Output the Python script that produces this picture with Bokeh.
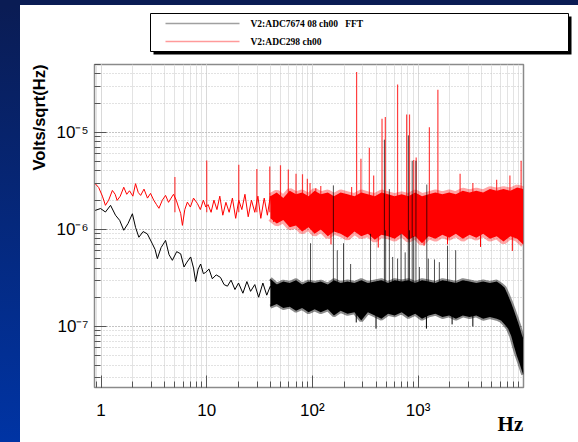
from bokeh.plotting import figure
from bokeh.models import Range1d, CustomJSTickFormatter, Div, Title
from bokeh.layouts import column, row
from bokeh.embed import file_html
from bokeh.resources import INLINE
from bokeh.core.properties import value

# ---------------- data ----------------
series_names = ["V2:ADC7674 08 ch00\u00a0\u00a0\u00a0FFT", "V2:ADC298 ch00"]
y_title = "Volts/sqrt(Hz)"
x_title = "Hz"

# red channel: low-frequency trace (Hz, 1e-6 V/sqrt(Hz))
red_trace_f = [0.88, 0.95, 1.03, 1.10, 1.18, 1.28, 1.36, 1.42, 1.52, 1.64,
               1.75, 1.86, 2.00, 2.12, 2.25, 2.37, 2.55, 2.75, 2.94, 3.15,
               3.35, 3.53, 3.80, 4.08, 4.35, 4.60, 4.85, 5.15, 5.40, 5.67,
               5.89, 6.20, 6.56, 7.00, 7.50, 8.16, 8.70, 9.30, 9.80, 10.3,
               11.0, 11.7, 12.5, 13.3, 14.2, 15.2, 16.3, 17.5, 18.8, 20.1,
               21.5, 23.0, 24.7, 26.5, 28.5, 30.5, 32.5, 35.0, 37.5, 40.0,
               43.0, 46.0, 50.0]
red_trace_uv = [2.96, 2.70, 2.20, 1.77, 2.00, 2.52, 2.30, 1.99, 2.20, 2.72,
                2.30, 2.50, 2.20, 2.96, 2.40, 2.24, 2.60, 2.10, 2.35, 2.00,
                1.80, 1.65, 2.00, 2.24, 1.90, 2.10, 2.30, 2.00, 1.70, 1.46,
                1.10, 1.60, 1.91, 1.70, 2.10, 1.85, 1.60, 2.00, 1.70, 1.80,
                1.50, 2.00, 1.60, 2.20, 1.40, 1.90, 1.50, 2.10, 1.30, 2.00,
                1.60, 2.30, 1.35, 2.00, 1.50, 2.20, 1.30, 2.10, 1.40, 2.20,
                1.20, 2.00, 1.50]

# red channel: dense noise band (upper / lower envelope)
red_band_f = [40, 46, 53, 61, 70, 80, 92, 105, 120, 140,
              160, 185, 215, 250, 290, 335, 390, 450, 520, 600,
              700, 810, 940, 1090, 1260, 1460, 1700, 1970, 2280, 2650,
              3070, 3560, 4130, 4790, 5550, 6440, 7470, 8660, 9900]
red_band_hi_uv = [2.2, 2.4, 2.1, 2.5, 2.3, 2.4, 2.2, 2.5, 2.3, 2.4,
                  2.2, 2.4, 2.3, 2.2, 2.4, 2.3, 2.2, 2.4, 2.3, 2.2,
                  2.3, 2.2, 2.4, 2.2, 2.3, 2.4, 2.3, 2.4, 2.3, 2.5,
                  2.4, 2.5, 2.4, 2.6, 2.5, 2.6, 2.5, 2.7, 2.6]
red_band_lo_uv = [1.30, 1.15, 1.25, 1.05, 1.10, 0.95, 1.05, 0.90, 1.00, 0.85,
                  0.95, 0.90, 0.82, 0.95, 0.85, 0.90, 0.78, 0.88, 0.85, 0.80,
                  0.90, 0.78, 0.85, 0.72, 0.85, 0.80, 0.88, 0.82, 0.90, 0.80,
                  0.88, 0.82, 0.90, 0.80, 0.85, 0.75, 0.85, 0.80, 0.70]

# red channel: line peaks and dips
red_spike_f = [5.0, 10.0, 20.1, 29.8, 39.5, 49.9, 59.2, 70.0, 80.6, 89.6,
               95.0, 107.6, 120, 235, 262, 288, 346, 380, 456, 490,
               640, 780, 830, 910, 960, 1280, 1540, 2500, 3300, 5540,
               7400, 9450]
red_spike_uv = [3.46, 5.14, 4.64, 4.20, 4.46, 4.57, 4.14, 3.75, 3.70, 3.33,
                3.00, 2.66, 2.80, 2.73, 41.9, 5.35, 6.95, 3.60, 13.8, 14.4,
                31.2, 15.3, 15.3, 5.20, 5.50, 11.3, 27.5, 3.75, 3.00, 3.25,
                3.60, 5.10]
red_dip_f = [150, 420, 1140, 1900, 3900, 7800]
red_dip_uv = [0.70, 0.65, 0.68, 0.70, 0.66, 0.60]
red_base_uv = 1.5

# black channel: low-frequency trace (Hz, 1e-7 V/sqrt(Hz))
blk_trace_f = [0.88, 0.99, 1.10, 1.23, 1.37, 1.50, 1.64, 1.80, 1.98, 2.12,
               2.28, 2.50, 2.74, 3.06, 3.25, 3.41, 3.70, 4.08, 4.40, 4.73,
               5.20, 5.67, 6.10, 6.50, 7.05, 7.50, 7.86, 8.30, 8.76, 9.30,
               9.77, 10.5, 11.3, 12.3, 13.5, 14.6, 15.7, 17.0, 18.5, 20.0,
               22.0, 24.0, 26.0, 28.5, 31.0, 34.0, 37.0, 40.0, 43.0, 46.0,
               50.0]
blk_trace_e7 = [15.7, 16.4, 15.1, 17.7, 14.0, 12.4, 9.8, 11.5, 14.5, 10.5,
                8.3, 9.5, 9.0, 7.1, 6.2, 5.0, 6.5, 7.7, 5.5, 4.8,
                5.9, 5.6, 4.1, 4.6, 5.2, 4.0, 2.9, 3.9, 4.4, 3.5,
                3.6, 3.9, 3.1, 3.4, 3.2, 2.7, 2.6, 3.0, 2.4, 2.8,
                2.2, 2.9, 2.3, 2.7, 2.0, 2.8, 2.1, 2.6, 2.2, 2.7,
                1.9]

# black channel: dense noise band (upper / lower envelope)
blk_band_f = [40, 46, 53, 61, 70, 80, 92, 105, 120, 140,
              160, 185, 215, 250, 290, 335, 390, 450, 520, 600,
              700, 810, 940, 1090, 1260, 1460, 1700, 1970, 2280, 2650,
              3070, 3560, 4130, 4790, 5550, 6100, 6600, 7100, 7600, 8100,
              8600, 9100, 9600, 9900]
blk_band_hi_e7 = [3.1, 2.7, 2.9, 2.8, 3.0, 2.7, 2.9, 2.8, 2.9, 2.7,
                  3.0, 2.8, 2.9, 2.8, 3.0, 2.8, 2.9, 3.0, 2.8, 3.0,
                  2.9, 3.0, 2.8, 3.0, 2.9, 2.8, 3.0, 2.9, 2.8, 3.0,
                  2.9, 2.8, 2.9, 2.8, 2.9, 2.7, 2.5, 2.1, 1.75, 1.45,
                  1.2, 1.0, 0.82, 0.75]
blk_band_lo_e7 = [1.60, 1.70, 1.55, 1.60, 1.45, 1.55, 1.40, 1.50, 1.40, 1.50,
                  1.30, 1.45, 1.35, 1.40, 1.15, 1.40, 1.30, 1.20, 1.35, 1.30,
                  1.40, 1.25, 1.35, 1.20, 1.30, 1.35, 1.25, 1.30, 1.20, 1.30,
                  1.25, 1.30, 1.20, 1.25, 1.20, 1.15, 1.05, 0.95, 0.80, 0.62,
                  0.50, 0.42, 0.35, 0.32]

# black channel: line peaks and dips
blk_spike_f = [96, 158, 172, 197, 230, 355, 480, 490, 535, 575,
               640, 690, 755, 810, 830, 880, 910, 955, 1030, 1210,
               1250, 1430, 1590, 1900, 2270]
blk_spike_e7 = [7.2, 28.4, 6.1, 7.2, 4.4, 9.0, 84, 9.8, 26, 5.2,
                5.0, 9.0, 5.8, 93, 9.8, 51, 8.5, 51, 4.1, 29,
                5.0, 4.9, 4.6, 6.8, 6.1]
blk_dip_f = [260, 400, 1200, 2100, 3300]
blk_dip_e7 = [1.10, 0.95, 0.95, 1.05, 1.00]
blk_base_e7 = 2.2

UV = 1e-6
E7 = 1e-7


def scaled(vals, k):
    return [v * k for v in vals]


# ---------------- main plot ----------------
p = figure(width=558, height=386, x_axis_type="log", y_axis_type="log",
           x_range=Range1d(0.867, 9950), y_range=Range1d(2.35e-8, 5.0e-5),
           toolbar_location=None, output_backend="svg",
           min_border_left=74, min_border_right=55, min_border_top=8, min_border_bottom=55,
           background_fill_color="white", border_fill_color="white",
           outline_line_color="#8a8a8a", outline_line_width=1.5)

# red channel
p.line(red_trace_f, scaled(red_trace_uv, UV), line_color="red", line_width=1)
for edge in (red_band_hi_uv, red_band_lo_uv):
    p.line(red_band_f, scaled(edge, UV), line_color="red", line_width=6, line_alpha=0.35)
p.varea(x=red_band_f, y1=scaled(red_band_lo_uv, UV), y2=scaled(red_band_hi_uv, UV),
        fill_color="red")
p.segment(x0=red_spike_f, y0=[red_base_uv * UV] * len(red_spike_f),
          x1=red_spike_f, y1=scaled(red_spike_uv, UV), line_color="red",
          line_alpha=0.75, line_width=1.2)
p.segment(x0=red_dip_f, y0=[red_base_uv * UV] * len(red_dip_f),
          x1=red_dip_f, y1=scaled(red_dip_uv, UV), line_color="red", line_width=1)

# black channel
p.line(blk_trace_f, scaled(blk_trace_e7, E7), line_color="black", line_width=1)
for edge in (blk_band_hi_e7, blk_band_lo_e7):
    p.line(blk_band_f, scaled(edge, E7), line_color="black", line_width=4, line_alpha=0.45)
p.varea(x=blk_band_f, y1=scaled(blk_band_lo_e7, E7), y2=scaled(blk_band_hi_e7, E7),
        fill_color="black")
p.segment(x0=blk_spike_f, y0=[blk_base_e7 * E7] * len(blk_spike_f),
          x1=blk_spike_f, y1=scaled(blk_spike_e7, E7), line_color="black",
          line_alpha=0.7, line_width=1)
p.segment(x0=blk_dip_f, y0=[blk_base_e7 * E7] * len(blk_dip_f),
          x1=blk_dip_f, y1=scaled(blk_dip_e7, E7), line_color="black", line_width=1)

sup_fmt = CustomJSTickFormatter(code="""
const sup = {"-":"\u207b","0":"\u2070","1":"\u00b9","2":"\u00b2","3":"\u00b3",
             "4":"\u2074","5":"\u2075","6":"\u2076","7":"\u2077","8":"\u2078","9":"\u2079"};
const e = Math.round(Math.log10(tick));
if (e === 0) return "1";
if (e === 1) return "10";
let s = "";
for (const c of String(e)) s += sup[c];
return "10" + s;
""")

for ax in (p.xaxis[0], p.yaxis[0]):
    ax.formatter = sup_fmt
    ax.major_tick_in = 12
    ax.major_tick_out = 0
    ax.minor_tick_in = 6
    ax.minor_tick_out = 0
    ax.major_tick_line_color = "#555555"
    ax.minor_tick_line_color = "#555555"
    ax.axis_line_color = "#8a8a8a"
    ax.major_label_text_font = "Liberation Sans"
    ax.major_label_text_font_size = "17px"
    ax.major_label_text_color = "black"

p.xaxis.major_label_standoff = 13
p.yaxis.major_label_standoff = 6

# y title: ROOT puts it at the top end of the axis
p.add_layout(Title(text=y_title, align="right", text_font="Liberation Sans",
                   text_font_size="16.5px", text_font_style="bold",
                   text_color="black", standoff=11), "left")

# x title at the right end of the axis, tucked under the tick labels
# (trailing no-break spaces keep the centred label flush with the frame's right edge)
xa = p.xaxis[0]
xa.axis_label = x_title + "\u00a0" * 5
xa.axis_label_text_font = "Liberation Serif"
xa.axis_label_text_font_size = "21px"
xa.axis_label_text_font_style = "bold"
xa.axis_label_text_color = "black"
xa.axis_label_standoff = 0
try:
    xa.axis_label_standoff = -11
except Exception:
    pass
try:
    xa.axis_label_align = "end"
except Exception:
    pass

p.xgrid.grid_line_color = "#d9d9d9"
p.xgrid.minor_grid_line_color = "#e3e3e3"
p.ygrid.grid_line_color = "#b5b5b5"
p.ygrid.grid_line_dash = "1 2"
p.ygrid.minor_grid_line_color = "#c5c5c5"
p.ygrid.minor_grid_line_dash = "1 2"

# ---------------- legend (ROOT-style box with shadow) ----------------
lg = figure(width=558, height=51, x_range=Range1d(0, 558), y_range=Range1d(51, 0),
            toolbar_location=None, output_backend="svg", min_border=0,
            x_axis_location=None, y_axis_location=None,
            outline_line_color=None, border_fill_color="white", background_fill_color="white")
lg.grid.visible = False
lg.quad(left=[133], right=[551], top=[11], bottom=[49], fill_color="black", line_color=None)
lg.quad(left=[130], right=[548], top=[8], bottom=[46], fill_color="white",
        line_color="black", line_width=1)
lg.segment(x0=[145, 145], y0=[18, 36], x1=[219, 219], y1=[18, 36],
           line_color=["#a0a0a0", "#ff9a9a"], line_width=1.5)
lg.text(x=[230, 230], y=[18, 36], text=series_names,
        text_font=value("Liberation Serif"), text_font_size="9.5px",
        text_font_style="bold", text_baseline="middle", text_color="black")

for fig in (lg, p):
    try:
        fig.frame_align = False
    except AttributeError:
        pass

# ---------------- slide background ----------------
top_bar = Div(text="", width=578, height=5, margin=0,
              styles={"background-color": "#0a1c54"})
side_bar = Div(text="", width=20, height=437, margin=0,
               styles={"background": "linear-gradient(180deg, #0a1c54 0%, #0034a4 100%)"})

layout = column(top_bar, row(side_bar, column(lg, p)))

open("out.html", "w").write(file_html(layout, INLINE))
